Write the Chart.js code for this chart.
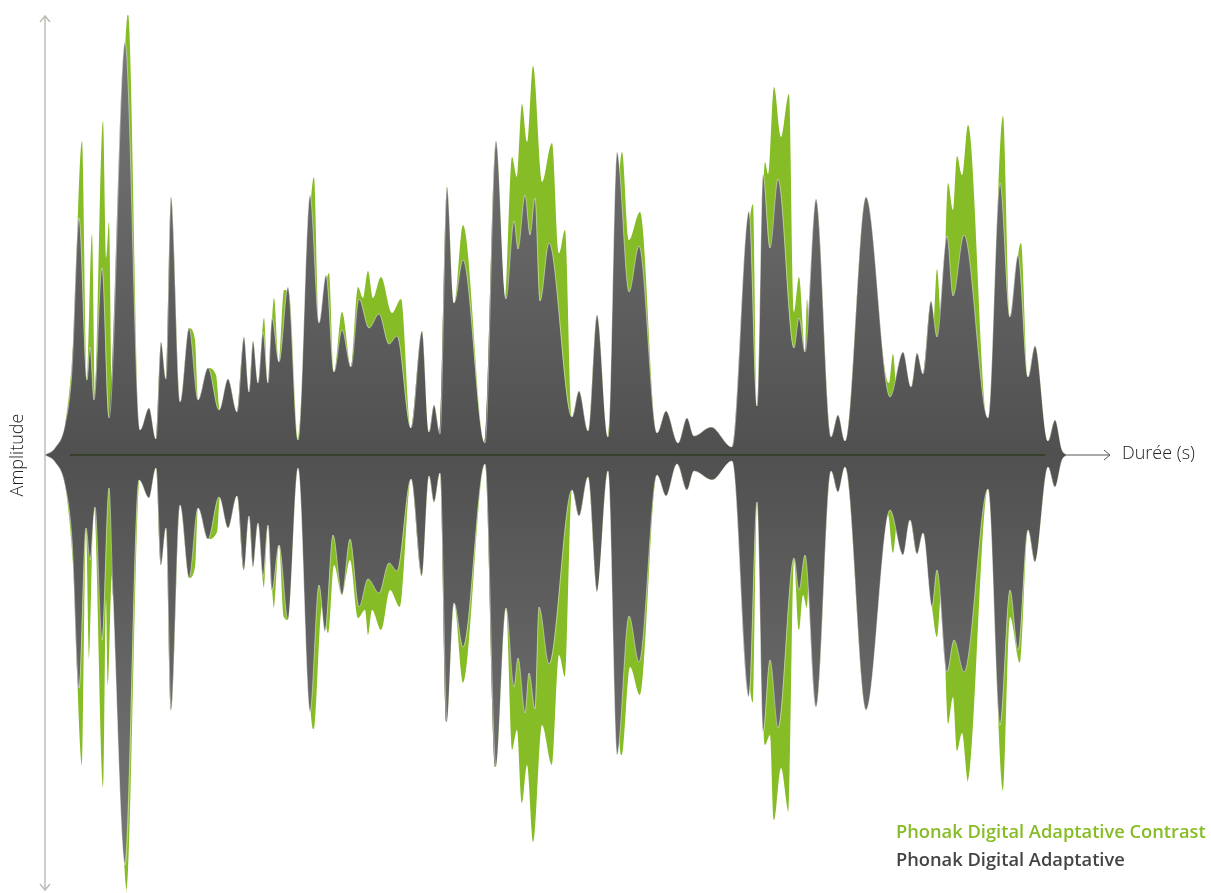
<!DOCTYPE html>
<html lang="fr">
<head>
<meta charset="utf-8">
<title>Phonak Digital Adaptative Contrast</title>
<script src="https://cdn.jsdelivr.net/npm/chart.js@4.4.1/dist/chart.umd.min.js"></script>
<style>
  html, body { margin: 0; padding: 0; background: #fff; }
  #wrap { width: 1211px; height: 893px; position: relative; }
</style>
</head>
<body>
<div id="wrap"><canvas id="waveChart"></canvas></div>
<script>
// libellés
const seriesLabels = ['Phonak Digital Adaptative Contrast', 'Phonak Digital Adaptative'];
const axisLabels = { x: 'Durée (s)', y: 'Amplitude' };

// [temps, amplitude] (unités arbitraires)
const adaptativeUpper = [
  [0,0],[10,7],[20,30],[27,85],[34,237],[42,75],[45,108],[49,55],[57,187],[64,37],
  [80,413],[95,25],[104,47],[111,16],[116,113],[121,76],[126,258],[135,53],[144,127],[153,55],
  [163,87],[174,45],[183,76],[192,43],[199,118],[204,63],[208,114],[213,72],[218,123],[223,72],
  [227,137],[234,93],[243,168],[253,15],[265,260],[274,132],[281,180],[289,83],[297,125],[306,88],
  [314,156],[324,127],[334,141],[344,111],[352,119],[366,27],[377,124],[384,23],[389,50],[395,21],
  [402,268],[409,152],[418,195],[440,12],[451,314],[461,156],[469,234],[473,206],[480,260],[485,220],
  [490,257],[495,154],[504,212],[527,38],[534,64],[543,24],[552,140],[563,18],[572,303],[584,163],
  [594,209],[612,22],[621,44],[633,12],[642,37],[649,19],[666,28],[687,8],[704,244],[712,49],
  [718,281],[725,207],[733,276],[749,107],[754,137],[760,103],[771,256],[786,18],[793,40],[800,14],
  [821,258],[845,58],[858,103],[866,68],[872,102],[878,81],[886,154],[892,118],[902,219],[908,159],
  [919,220],[943,37],[955,272],[965,138],[973,200],[983,78],[990,109],[1003,14],[1010,35],[1017,5],[1022,0]
];

const contrastUpper = [
  [0,0],[10,7],[20,30],[28,110],[37,314],[42,77],[47,221],[50,53],[58,334],[61,197],
  [64,233],[67,35],[83,441],[95,25],[104,47],[111,16],[116,113],[121,76],[126,258],[135,53],
  [144,127],[150,115],[153,55],[163,87],[171,80],[175,45],[183,76],[192,43],[199,118],[204,63],
  [208,114],[213,72],[219,137],[223,72],[229,157],[234,93],[239,165],[244,162],[253,15],[269,278],
  [274,132],[284,182],[289,83],[297,143],[306,88],[313,168],[318,157],[323,184],[328,157],[336,178],
  [347,142],[356,156],[366,27],[377,124],[384,23],[389,50],[395,21],[402,268],[409,152],[418,230],
  [440,12],[451,314],[460,157],[467,298],[472,278],[477,351],[482,313],[488,389],[497,273],[507,312],
  [514,202],[520,225],[527,38],[534,64],[543,24],[552,140],[563,18],[577,303],[584,215],[595,243],
  [612,22],[621,44],[633,12],[642,37],[649,19],[666,28],[687,8],[708,251],[712,49],[720,293],
  [723,281],[729,368],[736,318],[744,361],[749,143],[754,178],[760,103],[762,156],[767,60],[771,256],
  [786,18],[793,40],[800,14],[821,258],[844,72],[848,101],[852,65],[858,103],[866,68],[872,102],
  [878,81],[886,154],[888,125],[892,186],[897,125],[903,272],[908,245],[912,299],[917,280],[923,330],
  [943,37],[958,339],[965,138],[976,212],[983,78],[990,109],[1003,14],[1010,35],[1017,5],[1022,0]
];

const adaptativeLower = [
  [0,0],[10,-7],[20,-30],[27,-85],[34,-233],[41,-73],[45,-105],[50,-52],[57,-185],[64,-33],
  [68,-142],[80,-410],[94,-25],[104,-43],[111,-13],[116,-110],[121,-73],[126,-255],[135,-50],[144,-123],
  [153,-53],[163,-84],[174,-42],[183,-73],[192,-41],[199,-115],[204,-61],[208,-112],[213,-68],[218,-122],
  [223,-70],[227,-135],[234,-90],[243,-165],[253,-13],[265,-257],[274,-130],[280,-177],[288,-80],[297,-140],
  [305,-84],[314,-152],[323,-124],[334,-138],[344,-108],[352,-116],[366,-24],[377,-121],[384,-21],[389,-47],
  [395,-18],[402,-267],[409,-148],[418,-192],[440,-9],[451,-312],[461,-153],[469,-232],[473,-203],[480,-258],
  [484,-218],[490,-254],[494,-152],[504,-209],[527,-35],[534,-61],[543,-22],[552,-137],[563,-16],[572,-300],
  [584,-161],[594,-207],[612,-20],[621,-41],[632,-9],[642,-35],[649,-16],[667,-25],[687,-6],[704,-242],
  [712,-47],[718,-278],[725,-205],[733,-273],[749,-103],[754,-135],[760,-100],[771,-252],[786,-16],[793,-37],
  [800,-12],[821,-255],[845,-55],[858,-100],[865,-65],[872,-99],[878,-78],[887,-152],[892,-115],[902,-217],
  [909,-185],[919,-217],[943,-34],[955,-270],[965,-135],[973,-195],[983,-75],[990,-107],[1003,-12],[1010,-32],
  [1017,-5],[1022,0]
];

const contrastLower = [
  [0,0],[10,-7],[20,-30],[28,-110],[37,-311],[41,-75],[44,-205],[49,-53],[58,-332],[61,-145],
  [63,-230],[67,-120],[82,-437],[95,-22],[104,-43],[111,-13],[116,-110],[121,-73],[126,-255],[135,-50],
  [144,-123],[150,-112],[153,-53],[163,-84],[172,-77],[175,-42],[183,-73],[192,-41],[199,-115],[204,-61],
  [208,-112],[213,-68],[219,-133],[223,-70],[229,-153],[234,-90],[239,-162],[243,-165],[253,-13],[269,-274],
  [277,-152],[283,-178],[289,-110],[297,-140],[305,-105],[313,-163],[320,-155],[323,-180],[327,-155],[336,-175],
  [345,-135],[355,-152],[366,-24],[377,-121],[384,-21],[389,-47],[395,-18],[402,-267],[409,-148],[418,-228],
  [440,-9],[451,-312],[461,-153],[467,-295],[472,-275],[477,-348],[482,-310],[488,-387],[497,-270],[507,-310],
  [514,-200],[520,-222],[527,-35],[534,-61],[543,-22],[552,-137],[563,-16],[577,-300],[585,-212],[595,-240],
  [612,-20],[621,-41],[632,-9],[642,-35],[649,-16],[667,-25],[687,-6],[708,-248],[712,-47],[720,-290],
  [725,-280],[729,-365],[736,-313],[744,-358],[749,-105],[754,-175],[758,-140],[762,-153],[767,-60],[771,-252],
  [786,-16],[793,-37],[800,-12],[821,-255],[843,-60],[848,-98],[853,-62],[858,-100],[865,-65],[872,-99],
  [878,-78],[887,-152],[892,-182],[897,-130],[903,-269],[908,-242],[912,-296],[917,-278],[923,-327],[943,-34],
  [958,-336],[965,-162],[975,-208],[983,-75],[990,-107],[1003,-12],[1010,-32],[1017,-5],[1022,0]
];

const GREEN = '#86bc25';
const toPoints = arr => arr.map(p => ({ x: p[0], y: p[1] }));

// dégradé gris : clair aux extrémités, foncé près de l'axe
function grayFill(context) {
  const area = context.chart.chartArea;
  if (!area) return '#606060';
  const g = context.chart.ctx.createLinearGradient(0, area.top, 0, area.bottom);
  g.addColorStop(0, '#7a7a7a');
  g.addColorStop(0.5, '#505050');
  g.addColorStop(1, '#7a7a7a');
  return g;
}

// axes fléchés et textes
const axesPlugin = {
  id: 'arrowAxes',
  beforeDatasetsDraw(chart) {
    const c = chart.ctx;
    const a = chart.chartArea;
    const y0 = chart.scales.y.getPixelForValue(0);
    c.save();
    // axe vertical
    c.strokeStyle = '#bdbdb8';
    c.lineWidth = 1.5;
    c.beginPath();
    c.moveTo(a.left, 16); c.lineTo(a.left, 890);
    c.moveTo(a.left - 5, 22); c.lineTo(a.left, 16); c.lineTo(a.left + 5, 22);
    c.moveTo(a.left - 5, 884); c.lineTo(a.left, 890); c.lineTo(a.left + 5, 884);
    c.stroke();
    // axe horizontal
    c.strokeStyle = '#555';
    c.lineWidth = 1;
    c.beginPath();
    c.moveTo(a.left, y0); c.lineTo(1110, y0);
    c.moveTo(1104, y0 - 5); c.lineTo(1110, y0); c.lineTo(1104, y0 + 5);
    c.stroke();
    c.restore();
  },
  afterDatasetsDraw(chart) {
    const c = chart.ctx;
    const a = chart.chartArea;
    const y0 = chart.scales.y.getPixelForValue(0);
    c.save();
    c.strokeStyle = '#2e3a1e';
    c.lineWidth = 1.5;
    c.beginPath();
    c.moveTo(a.left + 25, y0); c.lineTo(chart.scales.x.getPixelForValue(1000), y0);
    c.stroke();

    c.fillStyle = '#222';
    c.font = '300 18px "Open Sans", sans-serif';
    c.textBaseline = 'middle';
    c.textAlign = 'left';
    c.fillText(axisLabels.x, 1122, y0 - 1);
    c.save();
    c.translate(18, y0);
    c.rotate(-Math.PI / 2);
    c.textAlign = 'center';
    c.fillText(axisLabels.y, 0, 0);
    c.restore();

    // légende
    c.font = '600 18.3px "Open Sans", sans-serif';
    c.fillStyle = GREEN;
    c.fillText(seriesLabels[0], 896, 833);
    c.fillStyle = '#444';
    c.fillText(seriesLabels[1], 896, 861);
    c.restore();
  }
};

const ctx = document.getElementById('waveChart').getContext('2d');
new Chart(ctx, {
  type: 'line',
  data: {
    datasets: [
      { label: seriesLabels[1], data: toPoints(adaptativeUpper), fill: 'origin', backgroundColor: grayFill,
        borderColor: 'rgba(255,255,255,0.45)', borderWidth: 1, order: 0 },
      { label: seriesLabels[1], data: toPoints(adaptativeLower), fill: 'origin', backgroundColor: grayFill,
        borderColor: 'rgba(255,255,255,0.45)', borderWidth: 1, order: 0 },
      { label: seriesLabels[0], data: toPoints(contrastUpper), fill: 'origin', backgroundColor: GREEN,
        borderWidth: 0, order: 1 },
      { label: seriesLabels[0], data: toPoints(contrastLower), fill: 'origin', backgroundColor: GREEN,
        borderWidth: 0, order: 1 }
    ]
  },
  options: {
    responsive: true,
    maintainAspectRatio: false,
    animation: false,
    events: [],
    layout: { padding: { left: 45, right: 144, top: 15, bottom: 0 } },
    elements: {
      line: { cubicInterpolationMode: 'monotone' },
      point: { radius: 0 }
    },
    plugins: { legend: { display: false }, tooltip: { enabled: false } },
    scales: {
      x: { type: 'linear', min: 0, max: 1022, display: false },
      y: { type: 'linear', min: -438, max: 440, display: false }
    }
  },
  plugins: [axesPlugin]
});
</script>
</body>
</html>
